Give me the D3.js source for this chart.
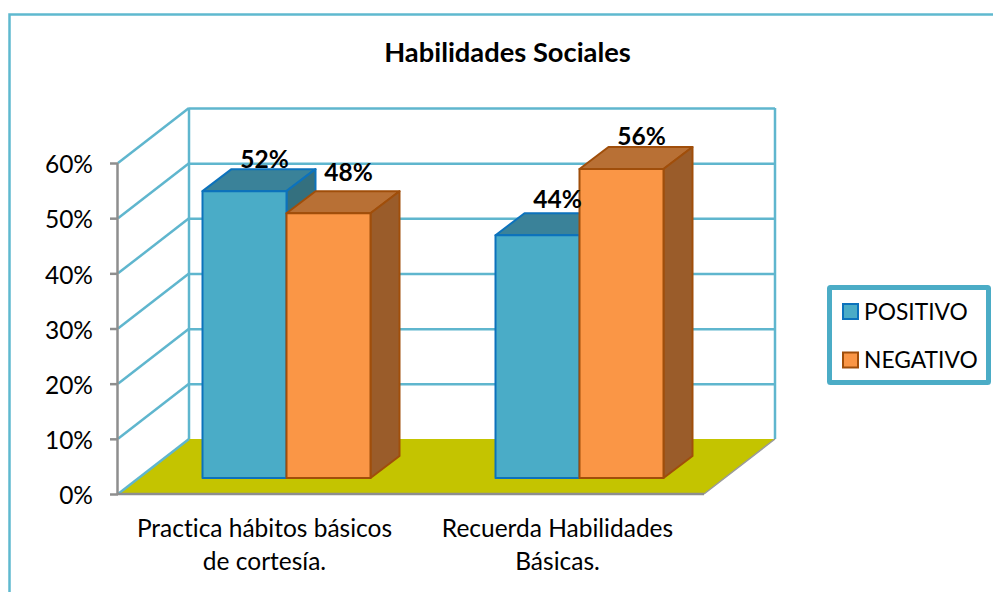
<!DOCTYPE html>
<meta charset="utf-8">
<style>
html, body { margin: 0; padding: 0; background: #fff; }
svg { display: block; }
text { font-family: Lato, "Open Sans", sans-serif; fill: #000; font-variant-ligatures: none; }
</style>
<body>
<script src="https://d3js.org/d3.v7.min.js"></script>
<script>
// values
var categories = [["Practica hábitos básicos", "de cortesía."], ["Recuerda Habilidades", "Básicas."]];
var seriesNames = ["POSITIVO", "NEGATIVO"];
var positivo = [0.52, 0.44];
var negativo = [0.48, 0.56];
var yTicks = [0, 0.1, 0.2, 0.3, 0.4, 0.5, 0.6];

// colours per series: front, top, side, edge
var colors = [
  {front: "#4AACC7", top: "#3A8299", side: "#34707F", edge: "#0C72BC"},
  {front: "#FA9646", top: "#B87035", side: "#9A5C2A", edge: "#A04E0A"}
];
var grid = "#5FB6CE", axisGrey = "#8E8E8E", teal = "#4BACC6";

var width = 993, height = 592;
var x0 = 118, x1 = 704, y0 = 494, yTop = 163;
var depthX = 71, depthY = 55;          // depth of the whole plot box
var barDepthX = 29, barDepthY = 22;    // depth of one bar
var barInsetX = 22, barInsetY = 16;    // how far back the bars stand

var svg = d3.select("body").append("svg")
    .attr("width", width)
    .attr("height", height);

// outer frame, only top and left are in view
svg.append("path")
    .attr("d", "M9.5 592V14.5H993")
    .attr("fill", "none")
    .attr("stroke", "#5FB9CF")
    .attr("stroke-width", 2.5);

svg.append("text")
    .attr("x", 507.5)
    .attr("y", 62)
    .attr("text-anchor", "middle")
    .style("font-weight", 700)
    .style("font-size", "27.3px")
    .text("Habilidades Sociales");

var y = d3.scaleLinear().domain([0, 0.6]).range([y0, yTop]);
var x = d3.scaleBand().domain(d3.range(categories.length)).range([x0, x1]);
var barW = 84;

// floor
svg.append("path")
    .attr("d", d3.line()([[x0, y0], [x0 + depthX, y0 - depthY], [x1 + depthX, y0 - depthY], [x1, y0]]) + "Z")
    .attr("fill", "#C4C400");

// back wall gridlines and side wall diagonals
yTicks.forEach(function(t) {
  if (t > 0) {
    svg.append("line")
      .attr("x1", x0 + depthX).attr("x2", x1 + depthX)
      .attr("y1", y(t) - depthY + 0.5).attr("y2", y(t) - depthY + 0.5)
      .attr("stroke", grid).attr("stroke-width", 2.5);
  }
  svg.append("line")
    .attr("x1", x0).attr("x2", x0 + depthX)
    .attr("y1", y(t)).attr("y2", y(t) - depthY)
    .attr("stroke", grid).attr("stroke-width", 2.5);
});
[x0 + depthX, x1 + depthX].forEach(function(px) {
  svg.append("line")
    .attr("x1", px).attr("x2", px)
    .attr("y1", yTop - depthY).attr("y2", y0 - depthY)
    .attr("stroke", grid).attr("stroke-width", 2.5);
});

// floor front edges
svg.append("path")
    .attr("d", d3.line()([[x1 + depthX, y0 - depthY], [x1, y0]]))
    .attr("fill", "none").attr("stroke", "#9a9a9a").attr("stroke-width", 1.5);

// y axis
var yAxis = svg.append("g")
    .attr("transform", "translate(" + x0 + ",0)")
    .call(d3.axisLeft(y).tickValues(yTicks).tickFormat(d3.format(".0%")).tickSize(8).tickPadding(17));
yAxis.select(".domain").attr("stroke", axisGrey).attr("stroke-width", 2.5).attr("d", "M-0.5," + yTop + "V" + y0);
yAxis.selectAll(".tick line").attr("stroke", axisGrey).attr("stroke-width", 2.5);
yAxis.selectAll(".tick text")
    .style("font-family", "Lato, sans-serif")
    .style("font-size", "24.5px")
    .attr("fill", "#000")
    .attr("dy", "0.40em");

// x axis baseline
svg.append("line")
    .attr("x1", x0).attr("x2", x1)
    .attr("y1", y0).attr("y2", y0)
    .attr("stroke", axisGrey).attr("stroke-width", 2.5);

// bars, blue then orange so the orange one covers the blue side
var series = [positivo, negativo];
var barBase = y0 - barInsetY;
var pxPerUnit = y0 - y(1);
var labelLift = [[23, 27], [32, 24]];  // pixels above the front top edge

function drawBar(i, j) {
  var v = series[j][i];
  var c = colors[j];
  var left = x(i) + x.bandwidth() / 2 + barInsetX - barW + j * barW;
  var right = left + barW;
  var top = barBase - v * pxPerUnit;
  var g = svg.append("g").attr("stroke", c.edge).attr("stroke-width", 2).attr("stroke-linejoin", "round");
  var line = d3.line();
  g.append("path")
    .attr("d", line([[left, top], [left + barDepthX, top - barDepthY], [right + barDepthX, top - barDepthY], [right, top]]) + "Z")
    .attr("fill", c.top);
  g.append("path")
    .attr("d", line([[right, top], [right + barDepthX, top - barDepthY], [right + barDepthX, barBase - barDepthY], [right, barBase]]) + "Z")
    .attr("fill", c.side);
  g.append("rect")
    .attr("x", left).attr("y", top)
    .attr("width", barW).attr("height", barBase - top)
    .attr("fill", c.front);
}

categories.forEach(function(_, i) {
  series.forEach(function(_, j) { drawBar(i, j); });
});

// data labels on top of everything
categories.forEach(function(_, i) {
  series.forEach(function(s, j) {
    var left = x(i) + x.bandwidth() / 2 + barInsetX - barW + j * barW;
    svg.append("text")
      .attr("x", left + barW / 2 + 20)
      .attr("y", barBase - s[i] * pxPerUnit - labelLift[j][i])
      .attr("text-anchor", "middle")
      .style("font-weight", 700)
      .style("font-size", "24.5px")
      .text(d3.format(".0%")(s[i]));
  });
});

// category labels
categories.forEach(function(lines, i) {
  lines.forEach(function(t, k) {
    svg.append("text")
      .attr("x", x(i) + x.bandwidth() / 2)
      .attr("y", 537 + k * 33)
      .attr("text-anchor", "middle")
      .style("font-size", "24.5px")
      .text(t);
  });
});

// legend
svg.append("rect")
    .attr("x", 829.5).attr("y", 287.5)
    .attr("width", 159).attr("height", 95)
    .attr("rx", 1)
    .attr("fill", "#fff")
    .attr("stroke", teal)
    .attr("stroke-width", 5);
seriesNames.forEach(function(name, j) {
  var ly = 304 + j * 48.5;
  svg.append("rect")
    .attr("x", 843).attr("y", ly)
    .attr("width", 15).attr("height", 15)
    .attr("fill", colors[j].front)
    .attr("stroke", colors[j].edge)
    .attr("stroke-width", 2);
  svg.append("text")
    .attr("x", 864)
    .attr("y", ly + 15.5)
    .style("font-size", "22.8px")
    .text(name);
});
</script>
</body>
